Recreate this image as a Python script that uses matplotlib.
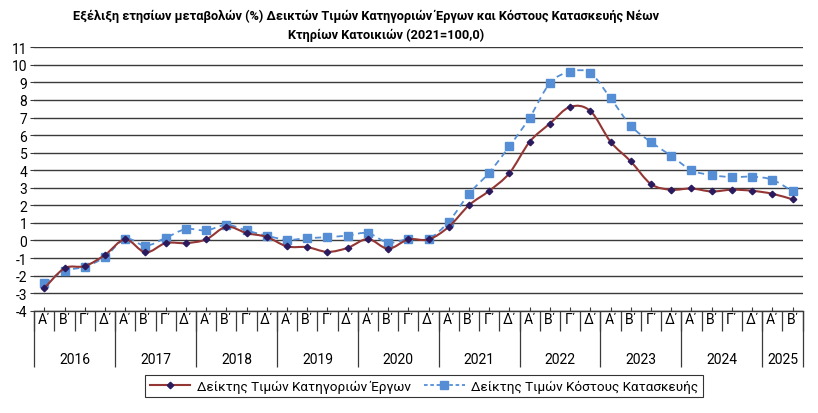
import numpy as np
import matplotlib
matplotlib.use('Agg')
import matplotlib.pyplot as plt
from matplotlib.path import Path
from matplotlib.patches import PathPatch
from matplotlib.lines import Line2D

plt.rcParams['font.family'] = ['Roboto', 'DejaVu Sans']

# Δεδομένα: ετήσιες μεταβολές (%) ανά τρίμηνο, 2016 Α΄ - 2025 Β΄
years = ['2016', '2017', '2018', '2019', '2020', '2021', '2022', '2023', '2024', '2025']
quarters = ['Α΄', 'Β΄', 'Γ΄', 'Δ΄']
quarters_per_year = [4, 4, 4, 4, 4, 4, 4, 4, 4, 2]

erga = [-2.72, -1.58, -1.46, -0.82,
        0.06, -0.68, -0.15, -0.15,
        0.06, 0.78, 0.42, 0.20,
        -0.34, -0.38, -0.65, -0.42,
        0.08, -0.47, 0.06, 0.06,
        0.78, 2.01, 2.83, 3.84,
        5.62, 6.66, 7.61, 7.37,
        5.62, 4.50, 3.21, 2.89,
        2.96, 2.79, 2.89, 2.83,
        2.66, 2.34]

kostos = [-2.45, -1.73, -1.50, -0.93,
          0.10, -0.30, 0.15, 0.65,
          0.57, 0.89, 0.57, 0.27,
          0.04, 0.13, 0.19, 0.28,
          0.42, -0.13, 0.08, 0.10,
          1.08, 2.66, 3.87, 5.37,
          7.00, 8.96, 9.61, 9.53,
          8.10, 6.53, 5.60, 4.82,
          4.00, 3.72, 3.61, 3.63,
          3.46, 2.79]

label_erga = 'Δείκτης Τιμών Κατηγοριών Έργων'
label_kostos = 'Δείκτης Τιμών Κόστους Κατασκευής'

c_erga = '#943634'
c_erga_mk = '#2B1B5E'
c_kostos = '#558ED5'


def smooth_path(x, y, t=1/6):
    # καμπύλη Bezier σαν το "smooth line" του Excel
    x = np.asarray(x, float)
    y = np.asarray(y, float)
    verts = [(x[0], y[0])]
    codes = [Path.MOVETO]
    n = len(x)
    for i in range(n - 1):
        x0, y0 = (x[i - 1], y[i - 1]) if i > 0 else (x[i], y[i])
        x3, y3 = (x[i + 2], y[i + 2]) if i + 2 < n else (x[i + 1], y[i + 1])
        c1 = (x[i] + (x[i + 1] - x0) * t, y[i] + (y[i + 1] - y0) * t)
        c2 = (x[i + 1] - (x3 - x[i]) * t, y[i + 1] - (y3 - y[i]) * t)
        verts += [c1, c2, (x[i + 1], y[i + 1])]
        codes += [Path.CURVE4] * 3
    return Path(verts, codes)


fig = plt.figure(figsize=(8.18, 4.14), dpi=100)
ax = fig.add_axes([0.0419, 0.2471, 0.9394, 0.6362])

xs = np.arange(len(erga))

ax.add_patch(PathPatch(smooth_path(xs, kostos), fill=False, edgecolor=c_kostos,
                       lw=1.3, ls=(0, (3.5, 2.5)), zorder=3))
ax.plot(xs, kostos, ls='none', marker='s', ms=5.2, color=c_kostos, zorder=4)

ax.add_patch(PathPatch(smooth_path(xs, erga), fill=False, edgecolor=c_erga,
                       lw=1.5, zorder=5))
ax.plot(xs, erga, ls='none', marker='D', ms=3.3, color=c_erga_mk, zorder=6)

ax.set_xlim(-0.5, len(erga) - 0.5)
ax.set_ylim(-4, 11)
ax.set_yticks(range(-4, 12))
ax.set_yticklabels([str(v) for v in range(-4, 12)], fontsize=10)
ax.yaxis.grid(True, color='#3a3a3a', lw=1.0)
ax.set_axisbelow(True)
ax.tick_params(axis='y', length=3, color='#3a3a3a', pad=2)

for s in ['left', 'right', 'top']:
    ax.spines[s].set_visible(False)
ax.spines['bottom'].set_color('#3a3a3a')
ax.spines['bottom'].set_linewidth(1.0)

# τικ πάνω από τον άξονα στα κέντρα των τριμήνων
ax.set_xticks(xs)
ax.set_xticklabels([])
ax.tick_params(axis='x', direction='in', length=3, color='#3a3a3a')

tr = ax.get_xaxis_transform()
bounds = np.arange(len(erga) + 1) - 0.5
ax.vlines(bounds, -0.076, 0, transform=tr, color='#3a3a3a', lw=0.9, clip_on=False)

qlabels = []
for n in quarters_per_year:
    qlabels += quarters[:n]
for i, q in enumerate(qlabels):
    ax.text(i, -0.033, q, transform=tr, ha='center', va='center', fontsize=10,
            clip_on=False)

start = -0.5
edges = [start]
for yr, n in zip(years, quarters_per_year):
    ax.text(start + n / 2, -0.185, yr, transform=tr, ha='center', va='center',
            fontsize=10, clip_on=False)
    start += n
    edges.append(start)
ax.vlines(edges, -0.214, 0, transform=tr, color='#3a3a3a', lw=0.9, clip_on=False)

fig.text(366 / 818, 1 - 16 / 414,
         'Εξέλιξη ετησίων μεταβολών (%) Δεικτών Τιμών Κατηγοριών Έργων και Κόστους Κατασκευής Νέων',
         ha='center', va='center', fontsize=9.2, fontweight='bold')
fig.text(386 / 818, 1 - 35 / 414, 'Κτηρίων Κατοικιών (2021=100,0)',
         ha='center', va='center', fontsize=9.2, fontweight='bold')

handles = [
    Line2D([], [], color=c_erga, lw=1.5, marker='D', ms=3.3,
           markerfacecolor=c_erga_mk, markeredgecolor=c_erga_mk),
    Line2D([], [], color=c_kostos, lw=1.3, ls=(0, (2, 1.5)), marker='s', ms=5.2),
]
leg = fig.legend(handles, [label_erga, label_kostos], loc='center',
                 bbox_to_anchor=(424 / 818, 1 - 387 / 414), ncol=2, fontsize=9.7,
                 frameon=True, fancybox=False, edgecolor='black', handlelength=3.0,
                 columnspacing=1.0, borderpad=0.35, handletextpad=0.5)
leg.get_frame().set_linewidth(0.8)

fig.savefig('out.png', dpi=100, facecolor='white')
